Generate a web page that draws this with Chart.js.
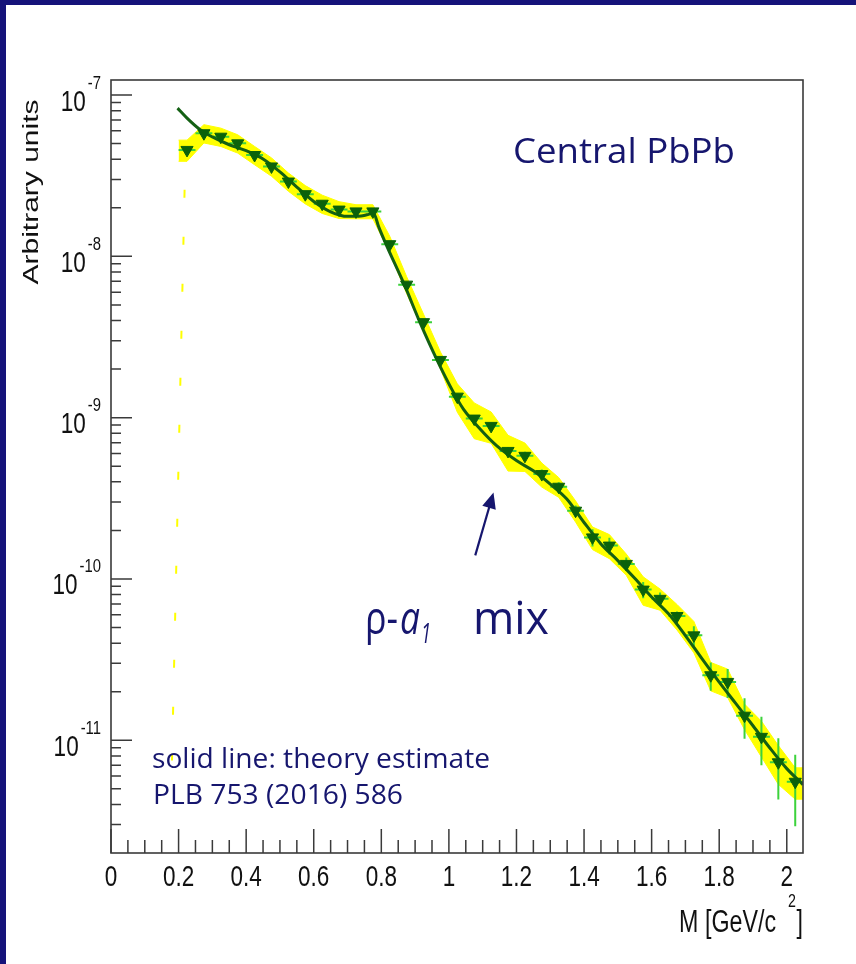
<!DOCTYPE html>
<html><head><meta charset="utf-8">
<script src="https://cdn.jsdelivr.net/npm/chart.js@4.4.1/dist/chart.umd.min.js"></script>
<style>html,body{margin:0;padding:0;background:#fff;overflow:hidden}canvas{display:block}</style>
</head><body>
<canvas id="c" width="856" height="964"></canvas>
<script>
// ---------------- data ----------------
const massBins = [0.225,0.275,0.325,0.375,0.425,0.475,0.525,0.575,0.625,0.675,0.725,0.775,0.825,0.875,0.925,0.975,1.025,1.075,1.125,1.175,1.225,1.275,1.325,1.375,1.425,1.475,1.525,1.575,1.625,1.675,1.725,1.775,1.825,1.875,1.925,1.975,2.025];
const yieldValues = [4.57e-8,5.80e-8,5.52e-8,5.02e-8,4.25e-8,3.61e-8,2.91e-8,2.43e-8,2.12e-8,1.95e-8,1.90e-8,1.90e-8,1.19e-8,6.68e-9,3.91e-9,2.28e-9,1.35e-9,9.87e-10,8.89e-10,6.22e-10,5.80e-10,4.47e-10,3.73e-10,2.65e-10,1.81e-10,1.61e-10,1.24e-10,8.59e-11,7.53e-11,5.89e-11,4.47e-11,2.53e-11,2.30e-11,1.42e-11,1.05e-11,7.30e-12,5.53e-12];
const statErrors = [1.5e-9,1.7e-9,1.6e-9,1.5e-9,1.3e-9,1.1e-9,9e-10,7e-10,6e-10,6e-10,6e-10,6e-10,4e-10,2.5e-10,1.5e-10,9e-11,6e-11,5e-11,4.5e-11,3.5e-11,3.5e-11,3e-11,2.5e-11,2e-11,2.2e-11,1.9e-11,1.2e-11,1.0e-11,7e-12,4e-12,6.3e-12,5e-12,4.7e-12,4e-12,3.5e-12,3.0e-12,2.6e-12];
const sysRelErrors = [0.15,0.13,0.13,0.13,0.13,0.13,0.13,0.13,0.13,0.12,0.10,0.10,0.12,0.12,0.12,0.12,0.20,0.25,0.22,0.25,0.20,0.17,0.14,0.15,0.16,0.17,0.15,0.20,0.15,0.18,0.22,0.20,0.20,0.18,0.25,0.27,0.22];
const binHalfWidth = 0.025;

const theoryMass = [0.197,0.225,0.264,0.30,0.35,0.40,0.45,0.50,0.55,0.60,0.65,0.70,0.74,0.757,0.777,0.792,0.817,0.866,0.915,0.964,1.014,1.043,1.093,1.142,1.201,1.25,1.30,1.349,1.40,1.45,1.50,1.55,1.60,1.65,1.70,1.75,1.80,1.85,1.90,1.95,2.00,2.048];
const theoryYield = [8.3e-8,7.2e-8,6.1e-8,5.5e-8,4.92e-8,4.52e-8,4.02e-8,3.34e-8,2.69e-8,2.19e-8,1.89e-8,1.77e-8,1.78e-8,1.81e-8,1.85e-8,1.53e-8,1.15e-8,6.84e-9,3.87e-9,2.30e-9,1.43e-9,1.13e-9,8.47e-10,6.68e-10,5.40e-10,4.68e-10,3.87e-10,3.13e-10,2.24e-10,1.65e-10,1.30e-10,1.01e-10,7.73e-11,6.08e-11,4.46e-11,3.18e-11,2.29e-11,1.68e-11,1.23e-11,8.95e-12,6.67e-12,5.31e-12];

// stray band edge (dashed yellow) at low mass
const tailMass = [0.2178, 0.1805];
const tailYield = [2.585e-8, 7.5e-12];

const xTickValues = [0,0.2,0.4,0.6,0.8,1.0,1.2,1.4,1.6,1.8,2.0];
const xTickLabels = ['0','0.2','0.4','0.6','0.8','1','1.2','1.4','1.6','1.8','2'];
const yDecadeExponents = [-7,-8,-9,-10,-11];

const arrowFrom = {x:1.078, y:1.40e-10};
const arrowTo = {x:1.132, y:3.44e-10};

// ---------------- build tables for the library ----------------
const nPts = massBins.length;
const pts = massBins.map((m,i)=>({x:m, y:yieldValues[i]}));
const bandUp = [], bandLo = [];
for (let i=0;i<nPts;i++){
  let x = massBins[i];
  if (i===0) { bandUp.push({x:x-binHalfWidth, y:yieldValues[i]*(1+sysRelErrors[i])}); bandLo.push({x:x-binHalfWidth, y:yieldValues[i]*(1-sysRelErrors[i])}); }
  bandUp.push({x, y:yieldValues[i]*(1+sysRelErrors[i])});
  bandLo.push({x, y:yieldValues[i]*(1-sysRelErrors[i])});
  if (i===nPts-1) { bandUp.push({x:x+binHalfWidth*0.9, y:yieldValues[i]*(1+sysRelErrors[i])}); bandLo.push({x:x+binHalfWidth*0.9, y:yieldValues[i]*(1-sysRelErrors[i])}); }
}
const errX = [], errY = [];
for (let i=0;i<nPts;i++){
  const x=massBins[i], y=yieldValues[i], e=statErrors[i];
  errX.push({x:x-binHalfWidth,y},{x:x+binHalfWidth,y},{x:x+binHalfWidth,y:null});
  errY.push({x,y:y-e},{x,y:y+e},{x,y:null});
}
const theory = theoryMass.map((m,i)=>({x:m,y:theoryYield[i]}));
const tail = tailMass.map((m,i)=>({x:m,y:tailYield[i]}));

// ---------------- styles ----------------
const NAVY = '#15137a';
const TEXT_NAVY = '#16166e';
const AXIS = '#3a3a3a';
const ROOT_FONT = '"Liberation Sans", Arial, Helvetica, sans-serif';
const NOTE_FONT = '"Open Sans", "Noto Sans", sans-serif';
const SX = 0.75;

function sText(ctx, txt, x, y, font, align, sx){
  ctx.save(); ctx.font = font;
  const w = ctx.measureText(txt).width * sx;
  let left = x;
  if (align==='right') left = x - w; else if (align==='center') left = x - w/2;
  ctx.translate(left, y); ctx.scale(sx,1); ctx.textAlign='left'; ctx.textBaseline='alphabetic';
  ctx.fillText(txt,0,0); ctx.restore();
  return w;
}
function fitText(ctx, txt, x, y, font, width){
  ctx.save(); ctx.font = font;
  const w = ctx.measureText(txt).width;
  ctx.translate(x,y); ctx.scale(width/w,1); ctx.textAlign='left'; ctx.textBaseline='alphabetic';
  ctx.fillText(txt,0,0); ctx.restore();
}

const rootPlugin = {
  id:'rootStyle',
  beforeDraw(chart){
    const ctx=chart.ctx;
    ctx.save();
    ctx.fillStyle='#fff'; ctx.fillRect(0,0,chart.width,chart.height);
    ctx.fillStyle=NAVY; ctx.fillRect(0,0,chart.width,5); ctx.fillRect(0,0,6,chart.height);
    ctx.restore();
  },
  afterDraw(chart){
    const ctx=chart.ctx, a=chart.chartArea, xs=chart.scales.x, ys=chart.scales.y;
    ctx.save();
    // frame
    ctx.strokeStyle=AXIS; ctx.lineWidth=1.6;
    ctx.strokeRect(a.left, a.top, a.right-a.left, a.bottom-a.top);
    ctx.lineWidth=1.5;
    // x ticks
    ctx.beginPath();
    for (let k=0;k<=41;k++){
      const v=k*0.05; if (v>xs.max) break;
      const px=xs.getPixelForValue(v);
      const major = (k%4===0);
      ctx.moveTo(px,a.bottom); ctx.lineTo(px,a.bottom-(major?24:13));
    }
    // y ticks
    for (let d=-12; d<=-7; d++){
      for (let k=1;k<=9;k++){
        const v=k*Math.pow(10,d);
        if (v<ys.min*1.01 || v>ys.max) continue;
        const py=ys.getPixelForValue(v);
        ctx.moveTo(a.left,py); ctx.lineTo(a.left+(k===1?21:10),py);
      }
    }
    ctx.stroke();
    // x tick labels
    ctx.fillStyle='#111';
    xTickValues.forEach((v,i)=>{
      sText(ctx, xTickLabels[i], xs.getPixelForValue(v), 886, '30px '+ROOT_FONT, 'center', SX);
    });
    // y tick labels 10^n
    yDecadeExponents.forEach(ex=>{
      const py=ys.getPixelForValue(Math.pow(10,ex));
      const ew = sText(ctx, String(ex), a.left-10, py-6.5, '18px '+ROOT_FONT, 'right', SX*1.1);
      sText(ctx, '10', a.left-10-ew-2, py+15.5, '30px '+ROOT_FONT, 'right', SX);
    });
    // axis titles
    sText(ctx, 'M [GeV/c', 776, 932, '31px '+ROOT_FONT, 'right', SX);
    sText(ctx, '2', 788, 907, '19px '+ROOT_FONT, 'left', SX);
    sText(ctx, ']', 796.5, 932, '31px '+ROOT_FONT, 'left', SX);
    ctx.save();
    ctx.translate(38,192); ctx.rotate(-Math.PI/2); ctx.scale(1,SX);
    ctx.font='30px '+ROOT_FONT; ctx.textAlign='center'; ctx.textBaseline='alphabetic';
    ctx.fillText('Arbitrary units',0,0);
    ctx.restore();

    // annotations
    ctx.fillStyle=TEXT_NAVY;
    fitText(ctx,'Central PbPb',513,163,'35px '+NOTE_FONT,222);
    fitText(ctx,'solid line: theory estimate',152,768,'27px '+NOTE_FONT,338);
    fitText(ctx,'PLB 753 (2016) 586',153,804,'27px '+NOTE_FONT,250);
    fitText(ctx,'\u03C1-',365,634,'45px '+NOTE_FONT,33);
    fitText(ctx,'a',400,634,'italic 45px '+NOTE_FONT,20);
    fitText(ctx,'1',421,643,'italic 27px '+NOTE_FONT,10);
    fitText(ctx,'mix',473,634,'45px '+NOTE_FONT,76);

    // arrow
    const x0=xs.getPixelForValue(arrowFrom.x), y0=ys.getPixelForValue(arrowFrom.y);
    const x1=xs.getPixelForValue(arrowTo.x), y1=ys.getPixelForValue(arrowTo.y);
    const dx=x1-x0, dy=y1-y0, L=Math.hypot(dx,dy), ux=dx/L, uy=dy/L;
    const hl=16, hw=7;
    ctx.strokeStyle=TEXT_NAVY; ctx.lineWidth=2.2;
    ctx.beginPath(); ctx.moveTo(x0,y0); ctx.lineTo(x1-ux*hl*0.8,y1-uy*hl*0.8); ctx.stroke();
    ctx.beginPath();
    ctx.moveTo(x1,y1);
    ctx.lineTo(x1-ux*hl-uy*hw, y1-uy*hl+ux*hw);
    ctx.lineTo(x1-ux*hl+uy*hw, y1-uy*hl-ux*hw);
    ctx.closePath(); ctx.fill();
    ctx.restore();
  }
};

new Chart(document.getElementById('c'), {
  type:'line',
  data:{ datasets:[
    {label:'sys low', data:bandLo, borderColor:'#ffff00', borderWidth:1, pointRadius:0, fill:false, tension:0, order:10},
    {label:'sys high', data:bandUp, borderColor:'#ffff00', backgroundColor:'#ffff00', borderWidth:1, pointRadius:0, fill:'-1', tension:0, order:9},
    {label:'band edge', data:tail, borderColor:'#ffff00', borderWidth:2, borderDash:[8,39], pointRadius:0, fill:false, order:8},
    {label:'stat x', data:errX, borderColor:'#3cd23c', borderWidth:2, pointRadius:0, spanGaps:false, fill:false, order:7},
    {label:'stat y', data:errY, borderColor:'#3cd23c', borderWidth:2, pointRadius:0, spanGaps:false, fill:false, order:6},
    {label:'theory', data:theory, borderColor:'#146014', borderWidth:3, pointRadius:0, fill:false, tension:0.4, cubicInterpolationMode:'monotone', order:5},
    {label:'data', data:pts, showLine:false, pointStyle:'triangle', rotation:180, pointRadius:7, backgroundColor:'#0b620b', borderColor:'#0b620b', borderWidth:1, order:4}
  ]},
  options:{
    responsive:false, animation:false, devicePixelRatio:1,
    layout:{padding:{left:0, top:80, right:53, bottom:0}},
    plugins:{legend:{display:false}, tooltip:{enabled:false}},
    scales:{
      x:{type:'linear', min:0, max:2.048, ticks:{display:false}, grid:{display:false}, border:{display:false},
         afterFit(s){ s.height=111; }},
      y:{type:'logarithmic', min:2.0e-12, max:1.24e-7, ticks:{display:false}, grid:{display:false}, border:{display:false},
         afterFit(s){ s.width=111; }}
    }
  },
  plugins:[rootPlugin]
});
</script>
</body></html>
